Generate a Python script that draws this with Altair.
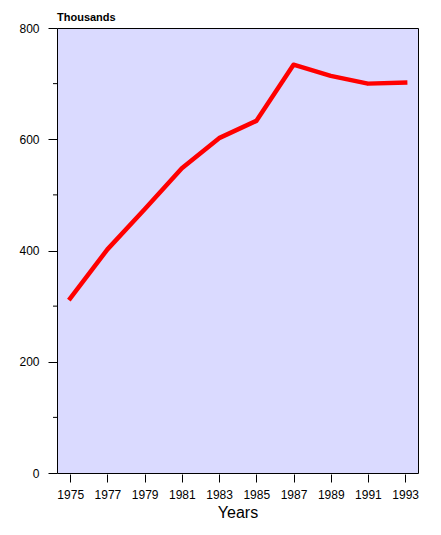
import altair as alt
import pandas as pd

years = [1975, 1977, 1979, 1981, 1983, 1985, 1987, 1989, 1991, 1993]
values = [314, 402, 474, 548, 602, 633, 734, 714, 700, 702]
x_ticks = [1975, 1977, 1979, 1981, 1983, 1985, 1987, 1989, 1991, 1993]
y_ticks = [0, 200, 400, 600, 800]
y_minor = [100, 300, 500, 700]
unit_label = "Thousands"
x_title = "Years"

df = pd.DataFrame({"year": years, "value": values})
minor_df = pd.DataFrame({"v": y_minor})
label_df = pd.DataFrame({"t": [unit_label]})

FONT = "Liberation Sans"

x_scale = alt.Scale(domain=[1974.29, 1993.69], nice=False, zero=False)
y_scale = alt.Scale(domain=[0, 800], nice=False)

line = alt.Chart(df).mark_line(
    color="#FF0000", strokeWidth=4.5, strokeCap="square", strokeJoin="round"
).encode(
    x=alt.X("year:Q", scale=x_scale,
            axis=alt.Axis(values=x_ticks, format="d", title=x_title,
                          domain=False, grid=False, tickSize=8, offset=1,
                          tickColor="black", labelFont=FONT, labelFontSize=12,
                          labelColor="black", labelPadding=7,
                          titleFont=FONT, titleFontSize=16, titleFontWeight="normal",
                          titleColor="black", titlePadding=4)),
    y=alt.Y("value:Q", scale=y_scale,
            axis=alt.Axis(values=y_ticks, format="d", title=None,
                          domain=False, grid=False, tickSize=9,
                          tickColor="black", labelFont=FONT, labelFontSize=12,
                          labelColor="black", labelPadding=9)),
)

minor = alt.Chart(minor_df).mark_rule(color="black", strokeWidth=1).encode(
    x=alt.value(-4), x2=alt.value(0), y=alt.Y("v:Q", scale=y_scale)
)

label = alt.Chart(label_df).mark_text(
    align="left", baseline="alphabetic", font=FONT, fontSize=11,
    fontWeight="bold", color="black"
).encode(x=alt.value(0), y=alt.value(-7), text="t:N")

chart = alt.layer(minor, line, label).properties(
    width=361, height=445,
    autosize="none",
    padding={"left": 49, "top": 20, "right": 15, "bottom": 54},
).configure(
    background="white",
    view=alt.ViewConfig(fill="#DADAFF", stroke="black", strokeWidth=1),
)

chart.save("out.html", embed_options={"renderer": "svg", "actions": False})
